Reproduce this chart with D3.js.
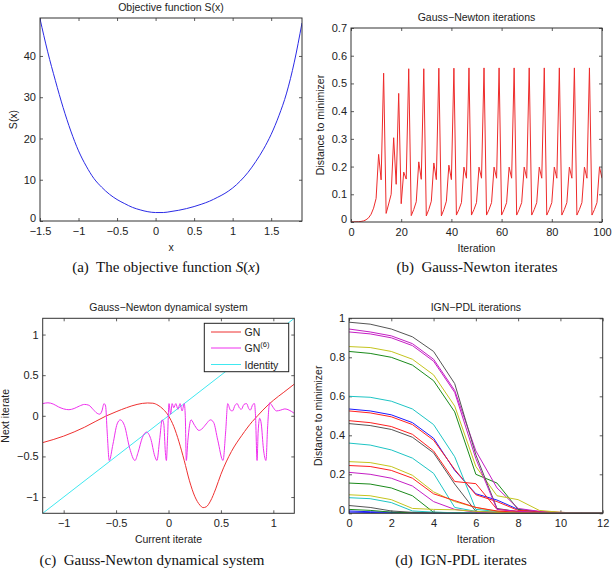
<!DOCTYPE html>
<html><head><meta charset="utf-8">
<script src="https://cdn.jsdelivr.net/npm/d3@7"></script>
<style>
body{margin:0;background:#fff;}
text{font-family:"Liberation Sans",Arial,Helvetica,sans-serif;fill:#222;}
.cap{font-family:"Liberation Serif","Times New Roman",serif;fill:#111;}
</style></head>
<body><svg id="c" width="616" height="570"></svg>
<script>
// ---------- Data ----------
// (a) objective function S(x)
const aX = [-1.5,-1.4,-1.3,-1.2,-1.1,-1.0,-0.9,-0.8,-0.7,-0.6,-0.5,-0.4,-0.3,-0.2,-0.1,0,0.1,0.2,0.3,0.4,0.5,0.6,0.7,0.8,0.9,1.0,1.1,1.2,1.3,1.4,1.5,1.6,1.7,1.8,1.9];
const aS = [49,41,34,27.5,21.8,17.0,13.3,10.3,8.2,6.5,5.2,4.2,3.3,2.7,2.25,2.05,2.05,2.3,2.6,3.0,3.5,4.1,4.8,5.7,6.7,8.0,9.7,11.8,14.4,17.4,21.0,25.5,31.0,38.5,48];
const aXTicks = [-1.5,-1,-0.5,0,0.5,1,1.5];
const aYTicks = [0,10,20,30,40];

// (b) Gauss-Newton iterations: distance to minimizer per iteration 0..100
const bDist = [0.0005,0.0006,0.0008,0.0012,0.002,0.004,0.008,0.015,0.028,0.05,
0.085,0.244,0.152,0.537,0.031,0.065,0.1,0.304,0.136,0.464,
0.066,0.18,0.155,0.553,0.023,0.045,0.073,0.217,0.154,0.553,
0.022,0.045,0.075,0.213,0.153,0.555,0.022,0.045,0.075,0.205,
0.153,0.555,0.025,0.045,0.07,0.198,0.158,0.556,0.025,0.045,
0.07,0.198,0.158,0.556,0.025,0.045,0.07,0.198,0.158,0.556,
0.025,0.045,0.07,0.198,0.158,0.556,0.025,0.045,0.07,0.198,
0.158,0.556,0.025,0.045,0.07,0.198,0.158,0.556,0.025,0.045,
0.07,0.198,0.158,0.556,0.025,0.045,0.07,0.198,0.158,0.556,
0.025,0.045,0.07,0.198,0.158,0.556,0.025,0.045,0.07,0.198,0.158];
const bXTicks = [0,20,40,60,80,100];
const bYTicks = [0,0.1,0.2,0.3,0.4,0.5,0.6,0.7];

// (c) Gauss-Newton dynamical system
const gnX = [-1.2,-1.0,-0.8,-0.6,-0.5,-0.4,-0.3,-0.2,-0.15,-0.1,-0.05,0,0.05,0.1,0.15,0.2,0.25,0.3,0.33,0.36,0.4,0.45,0.5,0.6,0.7,0.8,0.85,0.9,1.0,1.1,1.2];
const gnY = [-0.33,-0.25,-0.14,-0.005,0.05,0.1,0.14,0.158,0.155,0.13,0.08,0.0,-0.13,-0.32,-0.55,-0.8,-0.99,-1.1,-1.13,-1.12,-1.05,-0.9,-0.72,-0.44,-0.24,-0.07,0.0,0.07,0.19,0.29,0.39];
const gn6X = [-1.2,-1.15,-1.1,-1.05,-1.0,-0.95,-0.9,-0.85,-0.8,-0.76,-0.72,-0.68,-0.655,-0.635,-0.615,-0.6,-0.585,-0.565,-0.53,-0.49,-0.46,-0.42,-0.37,-0.32,-0.29,-0.25,-0.21,-0.17,-0.13,-0.11,-0.085,-0.06,-0.045,-0.03,-0.02,-0.01,0.005,0.02,0.035,0.05,0.07,0.09,0.11,0.13,0.15,0.16,0.17,0.185,0.215,0.25,0.29,0.32,0.36,0.4,0.43,0.47,0.52,0.545,0.565,0.59,0.61,0.635,0.655,0.675,0.695,0.72,0.745,0.765,0.78,0.805,0.82,0.83,0.845,0.855,0.87,0.885,0.905,0.93,0.945,0.965,0.98,1.0,1.03,1.07,1.11,1.15,1.2];
const gn6Y = [0.15,0.16,0.145,0.11,0.085,0.075,0.09,0.12,0.14,0.13,0.08,0.03,0.02,0.06,0.15,0.12,-0.2,-0.55,-0.35,-0.1,-0.05,-0.12,-0.4,-0.55,-0.45,-0.27,-0.2,-0.28,-0.5,-0.55,-0.3,-0.05,-0.1,-0.45,-0.55,-0.3,0.15,0.02,0.15,0.1,0.15,0.08,0.15,0.06,0.15,0.0,-0.55,-0.3,-0.05,-0.12,-0.18,-0.16,-0.1,-0.05,-0.08,-0.3,-0.55,-0.2,0.15,0.07,0.06,0.13,0.15,0.1,0.08,0.14,0.15,0.09,0.07,0.14,0.15,0.0,-0.55,-0.2,-0.03,-0.1,-0.4,-0.55,-0.15,0.16,0.14,0.1,0.06,0.07,0.085,0.07,0.03];
const idX = [-1.2,1.2];
const cTicks = [-1,-0.5,0,0.5,1];
const legendLabels = ["GN","GN","Identity"];

// (d) IGN-PDL iterations: distance to minimizer, iterations 0..12
const dIter = [0,1,2,3,4,5,6,7,8,9,10,11,12];
const ignRuns = [
 [0.535,0.525,0.505,0.465,0.385,0.22,0.1,0.068,0.02,0.006,0.002,0.0005,0],
 [0.83,0.82,0.8,0.76,0.68,0.52,0.2,0.155,0.02,0.008,0.003,0.001,0],
 [0.525,0.515,0.495,0.455,0.375,0.225,0.095,0.06,0.015,0.01,0.005,0.001,0],
 [0.6,0.595,0.575,0.535,0.455,0.29,0.02,0.01,0.005,0.001,0,0,0],
 [0.945,0.93,0.91,0.87,0.79,0.63,0.32,0.13,0.025,0.01,0.003,0.001,0],
 [0.855,0.85,0.83,0.79,0.71,0.55,0.24,0.09,0.07,0.015,0.005,0.001,0],
 [0.98,0.97,0.945,0.905,0.83,0.665,0.3,0.025,0.008,0.002,0.0005,0,0],
 [0.006,0.004,0.002,0.001,0.0005,0,0,0,0,0,0,0,0],
 [0.155,0.15,0.13,0.09,0.005,0.003,0.001,0,0,0,0,0,0],
 [0.475,0.465,0.445,0.405,0.32,0.163,0.152,0.02,0.01,0.005,0.002,0,0],
 [0.36,0.35,0.325,0.283,0.205,0.03,0.01,0.003,0.001,0,0,0,0],
 [0.93,0.92,0.9,0.86,0.78,0.62,0.28,0.02,0.01,0.003,0.001,0,0],
 [0.265,0.26,0.24,0.195,0.11,0.06,0.03,0.01,0.004,0.001,0,0,0],
 [0.46,0.45,0.43,0.39,0.31,0.15,0.01,0.005,0.002,0.001,0,0,0],
 [0.012,0.008,0.005,0.003,0.001,0,0,0,0,0,0,0,0],
 [0.02,0.015,0.006,0.003,0.001,0,0,0,0,0,0,0,0],
 [0.245,0.24,0.22,0.18,0.1,0.065,0.03,0.012,0.005,0.002,0,0,0],
 [0.08,0.075,0.055,0.012,0.006,0.003,0.001,0,0,0,0,0,0],
 [0.21,0.2,0.18,0.14,0.06,0.02,0.006,0.002,0,0,0,0,0],
 [0.095,0.09,0.07,0.025,0.02,0.018,0.01,0.004,0.001,0,0,0,0],
 [0.04,0.03,0.012,0.005,0.002,0.001,0,0,0,0,0,0,0]
];
const dXTicks = [0,2,4,6,8,10,12];
const dYTicks = [0,0.2,0.4,0.6,0.8,1];

// ---------- Styles ----------
const matlab = ["#1a1aff","#1a8a1a","#ff2020","#1ec4c4","#c41ec4","#c4c41e","#555555"];

// ---------- Drawing ----------
const svg = d3.select("#c");
const fmt = v => (v < 0 ? "\u2212" : "") + Math.abs(v);
let clipId = 0;

function panel(o){
  const x = d3.scaleLinear().domain(o.xd).range([o.l, o.r]);
  const y = d3.scaleLinear().domain(o.yd).range([o.b, o.t]);
  const g = svg.append("g");
  const tk = 3;
  const ax = (axis, tr, lab) => {
    const a = g.append("g").attr("transform", tr).call(axis);
    a.select(".domain").remove();
    a.selectAll("line").attr("stroke","#333").attr("stroke-width",0.8);
    a.selectAll("text").style("font-size","11px").attr("fill","#222");
    if(!lab) a.selectAll("text").remove();
    return a;
  };
  ax(d3.axisBottom(x).tickValues(o.xt).tickFormat(fmt).tickSizeInner(-tk).tickSizeOuter(0).tickPadding(6), `translate(0,${o.b})`, true);
  ax(d3.axisTop(x).tickValues(o.xt).tickSizeInner(-tk).tickSizeOuter(0), `translate(0,${o.t})`, false);
  const left = ax(d3.axisLeft(y).tickValues(o.yt).tickFormat(fmt).tickSizeInner(-tk).tickSizeOuter(0).tickPadding(4), `translate(${o.l},0)`, true);
  // lift the bottom-most y label slightly so it clears the x labels
  left.selectAll(".tick text").filter(d => d === o.yd[0]).attr("dy","0.05em");
  ax(d3.axisRight(y).tickValues(o.yt).tickSizeInner(-tk).tickSizeOuter(0), `translate(${o.r},0)`, false);
  const id = "clip" + (clipId++);
  svg.append("clipPath").attr("id", id).append("rect")
    .attr("x", o.l).attr("y", o.t).attr("width", o.r - o.l).attr("height", o.b - o.t);
  const plot = g.append("g").attr("clip-path", `url(#${id})`);
  g.append("rect").attr("x", o.l).attr("y", o.t).attr("width", o.r - o.l).attr("height", o.b - o.t)
    .attr("fill","none").attr("stroke","#333").attr("stroke-width",1);
  g.append("text").attr("x",(o.l+o.r)/2).attr("y",o.t-7).attr("text-anchor","middle")
    .style("font-size","10.5px").text(o.title);
  g.append("text").attr("x",(o.l+o.r)/2).attr("y",o.b+30).attr("text-anchor","middle")
    .style("font-size","10.5px").text(o.xl);
  g.append("text").attr("transform",`translate(${o.yl_x},${(o.t+o.b)/2}) rotate(-90)`)
    .attr("text-anchor","middle").style("font-size","10.5px").text(o.yl);
  return {x, y, g, plot};
}

function addLine(p, xs, ys, color, curve){
  const pts = xs.map((v,i)=>[v, ys[i]]);
  p.plot.append("path").datum(pts)
    .attr("fill","none").attr("stroke",color).attr("stroke-width",1)
    .attr("d", d3.line().x(d=>p.x(d[0])).y(d=>p.y(d[1])).curve(curve || d3.curveLinear));
}

// (a)
const pa = panel({l:40,r:302,t:18,b:221,xd:[-1.5,1.9],yd:[0,49.2],xt:aXTicks,yt:aYTicks,
  title:"Objective function S(x)", xl:"x", yl:"S(x)", yl_x:17});
addLine(pa, aX, aS, "#2a2ae6", d3.curveMonotoneX);

// (b)
const pb = panel({l:351,r:602,t:28,b:222,xd:[0,100],yd:[0,0.7],xt:bXTicks,yt:bYTicks,
  title:"Gauss\u2212Newton iterations", xl:"Iteration", yl:"Distance to minimizer", yl_x:324});
addLine(pb, d3.range(bDist.length), bDist, "#ee2b2b");

// (c)
const pc = panel({l:42.7,r:294.3,t:318.3,b:513.3,xd:[-1.2,1.2],yd:[-1.2,1.2],xt:cTicks,yt:cTicks,
  title:"Gauss\u2212Newton dynamical system", xl:"Current iterate", yl:"Next iterate", yl_x:9});
const cColors = ["#ee3030","#ee30ee","#40e8f0"];
addLine(pc, idX, idX, cColors[2]);
addLine(pc, gnX, gnY, cColors[0], d3.curveMonotoneX);
addLine(pc, gn6X, gn6Y, cColors[1], d3.curveMonotoneX);
// legend
const lg = pc.g.append("g");
lg.append("rect").attr("x",204.3).attr("y",323.3).attr("width",84.4).attr("height",48.4)
  .attr("fill","#fff").attr("stroke","#222").attr("stroke-width",1);
[332,348,364.5].forEach((yy,i)=>{
  lg.append("line").attr("x1",211).attr("x2",241).attr("y1",yy).attr("y2",yy)
    .attr("stroke",cColors[i]).attr("stroke-width",1);
  const t = lg.append("text").attr("x",244.5).attr("y",yy+4).style("font-size","10.5px").text(legendLabels[i]);
  if(i===1) t.append("tspan").attr("dy",-5).style("font-size","7.5px").text("(6)");
});

// (d)
const pd = panel({l:349,r:602.7,t:318.3,b:513.3,xd:[0,12],yd:[0,1],xt:dXTicks,yt:dYTicks,
  title:"IGN\u2212PDL iterations", xl:"Iteration", yl:"Distance to minimizer", yl_x:322});
ignRuns.forEach((run,i)=> addLine(pd, dIter, run, matlab[i % matlab.length]));

// captions
const caps = [
  {x:166,y:272,parts:[["(a)  The objective function ",false],["S",true],["(",false],["x",true],[")",false]]},
  {x:477,y:272,parts:[["(b)  Gauss-Newton iterates",false]]},
  {x:152,y:565,parts:[["(c)  Gauss-Newton dynamical system",false]]},
  {x:461,y:565,parts:[["(d)  IGN-PDL iterates",false]]}
];
caps.forEach(c=>{
  const t = svg.append("text").attr("class","cap").attr("x",c.x).attr("y",c.y)
    .attr("text-anchor","middle").style("font-size","15px").attr("xml:space","preserve");
  c.parts.forEach(p=> t.append("tspan").style("font-style", p[1]?"italic":"normal").text(p[0]));
});
</script></body></html>
